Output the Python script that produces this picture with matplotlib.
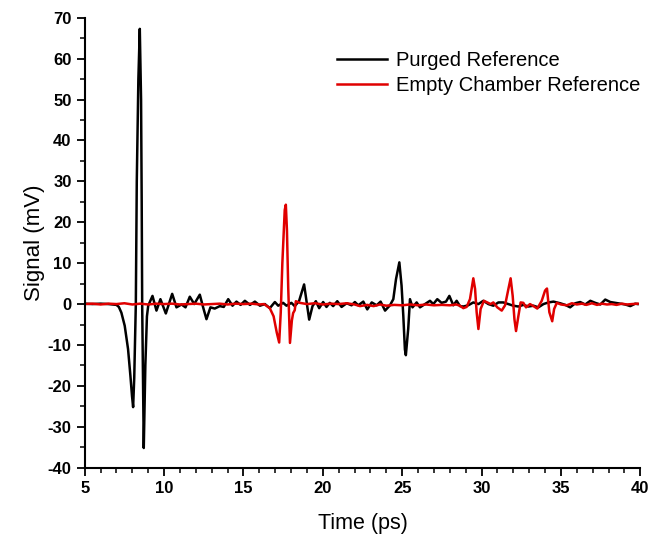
import matplotlib
matplotlib.use("Agg")
import matplotlib.pyplot as plt
from matplotlib.ticker import MultipleLocator

# Purged reference waveform (ps, mV)
purged_t = [5.0, 5.5, 6.0, 6.5, 7.0, 7.15, 7.31, 7.52, 7.73, 7.88, 7.98, 8.05, 8.12, 8.22, 8.28, 8.38,
            8.47, 8.55, 8.59, 8.62, 8.72, 8.82, 8.92, 9.0, 9.27, 9.52, 9.77, 10.11, 10.51, 10.78,
            11.10, 11.35, 11.62, 11.90, 12.25, 12.46, 12.67, 12.92, 13.19, 13.51, 13.76, 14.04,
            14.31, 14.56, 14.82, 15.09, 15.41, 15.72, 16.04, 16.35, 16.66, 16.98, 17.19, 17.50,
            17.71, 18.02, 18.23, 18.50, 18.82, 19.14, 19.35, 19.56, 19.77, 20.02, 20.23, 20.44,
            20.65, 20.91, 21.18, 21.50, 21.81, 22.02, 22.23, 22.55, 22.80, 23.08, 23.39, 23.64,
            23.92, 24.23, 24.44, 24.61, 24.82, 24.96, 25.07, 25.17, 25.23, 25.38, 25.49, 25.65,
            25.91, 26.12, 26.43, 26.75, 26.96, 27.21, 27.48, 27.76, 27.97, 28.22, 28.43, 28.64,
            28.85, 29.16, 29.48, 29.80, 30.11, 30.43, 30.74, 31.06, 31.37, 31.69, 32.00, 32.32,
            32.63, 32.95, 33.27, 33.58, 33.90, 34.21, 34.53, 34.95, 35.27, 35.58, 35.90, 36.21,
            36.53, 36.85, 37.16, 37.48, 37.79, 38.11, 38.42, 38.74, 39.05, 39.37, 39.68, 39.83]
purged_v = [0.1, 0.0, 0.1, 0.0, -0.2, -0.7, -2.1, -5.3, -11.0, -17.6, -22.5, -25.2, -18.0, 0.0, 30.0, 55.0,
            67.3, 50.0, 25.0, 0.0, -35.2, -15.0, -3.0, -0.4, 2.0, -1.6, 1.2, -2.3, 2.5, -0.8,
            -0.1, -0.8, 1.8, 0.0, 2.3, -0.8, -3.7, -0.8, -1.1, -0.5, -0.7, 1.2,
            -0.4, 0.6, -0.2, 0.8, -0.2, 0.6, -0.4, 0.0, -1.0, 0.5, -0.4, 0.3,
            -0.4, 0.3, -0.5, 0.7, 4.8, -3.8, -0.5, 0.7, -1.0, 0.5, -0.7, 0.3,
            -0.5, 0.7, -0.7, 0.2, -0.3, 0.5, -0.3, 0.6, -1.3, 0.4, -0.3, 0.6,
            -1.6, -0.3, 1.2, 6.1, 10.2, 4.5, -2.9, -11.1, -12.5, -6.0, 1.2, -0.8,
            0.4, -0.8, 0.0, 0.8, 0.0, 1.2, 0.3, 0.6, 2.0, -0.3, 0.8, -0.5,
            -0.6, -0.3, 0.4, 0.0, 0.8, 0.0, -0.4, 0.4, 0.4, 0.0, -0.4, -0.6,
            -0.2, -0.6, -0.4, -0.8, 0.0, 0.4, 0.6, 0.2, -0.2, -0.8, 0.2, 0.5,
            -0.1, 0.8, 0.3, -0.1, 1.1, 0.5, 0.3, 0.1, -0.1, -0.5, 0.1, 0.0]

# Empty chamber reference waveform
empty_t = [5.0, 5.5, 6.0, 6.5, 7.0, 7.5, 8.0, 8.5, 9.0, 9.5, 10.0, 10.5, 11.0, 11.5, 12.0, 12.5,
           13.0, 13.5, 14.0, 14.5, 15.0, 15.5, 16.0, 16.3, 16.66, 16.9, 17.1, 17.25, 17.35, 17.45,
           17.6, 17.67, 17.74, 17.82, 17.93, 18.05, 18.13, 18.23, 18.3, 18.55, 19.0, 19.5, 20.0,
           20.5, 21.0, 21.5, 22.0, 22.34, 22.8, 23.2, 23.6, 24.0, 24.5, 25.0, 25.5, 26.0, 26.5,
           27.0, 27.5, 28.0, 28.4, 28.64, 28.85, 29.06, 29.27, 29.48, 29.59, 29.69, 29.80, 29.94,
           30.15, 30.36, 30.57, 30.74, 30.99, 31.27, 31.48, 31.69, 31.83, 31.96, 32.07, 32.17,
           32.32, 32.46, 32.63, 32.80, 33.05, 33.27, 33.51, 33.79, 34.0, 34.12, 34.27, 34.45,
           34.57, 34.74, 35.0, 35.37, 35.69, 36.0, 36.32, 36.6, 36.95, 37.27, 37.58, 37.9, 38.2,
           38.5, 38.84, 39.15, 39.47, 39.83]
empty_v = [0.0, 0.1, -0.1, 0.1, 0.0, 0.2, -0.1, 0.1, -0.1, 0.1, 0.0, 0.1, -0.1, 0.0, 0.1, -0.1,
           0.0, 0.1, -0.1, 0.1, 0.0, 0.1, -0.1, 0.0, -1.0, -3.0, -7.0, -9.4, -2.0, 10.0,
           23.0, 24.3, 18.0, 4.0, -9.5, -4.0, -2.2, -1.5, 0.7, 0.3, 0.0, 0.2, -0.1,
           0.1, 0.0, 0.2, -0.1, -0.5, -0.2, -0.5, -0.1, -0.4, -0.2, -0.3, -0.1, -0.3, -0.1,
           -0.3, -0.2, -0.3, -0.1, -0.4, -1.0, -0.7, 1.2, 6.3, 3.7, -2.0, -6.1, -1.2,
           0.8, 0.4, 0.0, 0.4, -0.8, -1.6, -0.3, 3.7, 6.3, 2.0, -3.7, -6.6,
           -2.9, 0.4, 0.3, -0.8, 0.0, -0.5, -1.1, 0.8, 3.3, 3.8, -2.0, -4.2,
           -1.2, 0.3, -0.1, -0.3, 0.2, -0.1, 0.1, -0.2, 0.2, -0.2, 0.1, -0.1, 0.0,
           -0.2, 0.1, -0.1, 0.0, 0.1]

plt.rcParams['font.family'] = ['Liberation Sans', 'DejaVu Sans']
plt.rcParams['axes.unicode_minus'] = False

fig = plt.figure(figsize=(6.67, 5.4), dpi=100)
ax = fig.add_axes([0.127, 0.134, 0.833, 0.833])

ax.plot(purged_t, purged_v, color="black", lw=1.8, label="Purged Reference")
ax.plot(empty_t, empty_v, color="#e00000", lw=1.8, label="Empty Chamber Reference")

ax.set_xlim(5, 40)
ax.set_ylim(-40, 70)
ax.xaxis.set_major_locator(MultipleLocator(5))
ax.xaxis.set_minor_locator(MultipleLocator(1))
ax.yaxis.set_major_locator(MultipleLocator(10))
ax.yaxis.set_minor_locator(MultipleLocator(5))

# only left and bottom axes
ax.spines["top"].set_visible(False)
ax.spines["right"].set_visible(False)
ax.spines["left"].set_linewidth(1.5)
ax.spines["bottom"].set_linewidth(1.5)
ax.tick_params(which="major", direction="out", length=6, width=1.3)
ax.tick_params(which="minor", direction="out", length=3.5, width=1.1)

tick_font = dict(family=['Liberation Sans Narrow', 'Liberation Sans'], weight='bold', size=12)
for lab in ax.get_xticklabels() + ax.get_yticklabels():
    lab.set_fontproperties(matplotlib.font_manager.FontProperties(**tick_font))

ax.set_xlabel("Time (ps)", fontsize=15.5, labelpad=12)
ax.set_ylabel("Signal (mV)", fontsize=16, labelpad=2)

ax.legend(loc="upper left", bbox_to_anchor=(0.505, 0.905), bbox_transform=fig.transFigure,
          frameon=False, fontsize=14.5, borderpad=0, borderaxespad=0,
          handlelength=2.5, handletextpad=0.45, labelspacing=0.3)

fig.savefig("out.png", dpi=100)
